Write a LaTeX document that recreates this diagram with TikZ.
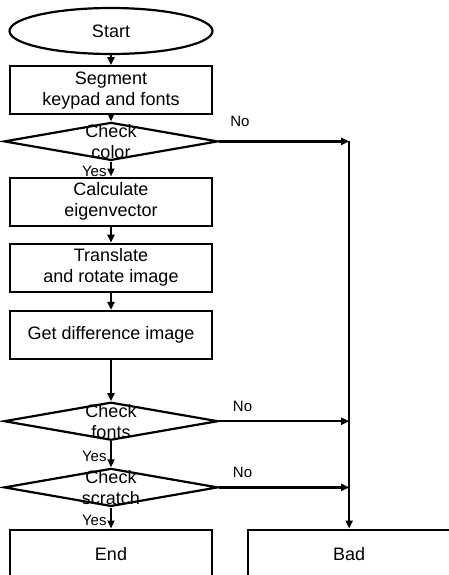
\documentclass[tikz,border=0pt]{standalone}
\usepackage{fontspec}
\setmainfont{Liberation Sans}
\usepackage{tikz}
\usetikzlibrary{positioning}
\usetikzlibrary{shapes.geometric}
\usetikzlibrary{arrows.meta}

\begin{document}
\begin{tikzpicture}[
    x=1pt, y=-1pt,
    line width=2.2pt,
    >={Triangle[length=8pt,width=7pt]},
    every node/.style={font=\fontsize{18}{21}\selectfont},
    box/.style={rectangle, draw=black, minimum width=202pt, minimum height=48pt, inner sep=0pt, align=center},
    oval/.style={ellipse, draw=black, minimum width=203pt, minimum height=46pt, inner sep=0pt},
    check/.style={diamond, draw=black, minimum width=214pt, minimum height=38pt, inner sep=0pt},
    yesno/.style={font=\fontsize{15}{17}\selectfont}
]
\useasboundingbox (0,0) rectangle (448,575);

\node[oval] (start) at (111,31) {Start};
\node[box] (segment) [below=10pt of start] {Segment\\keypad and fonts};
\node[check, label={[align=center]center:Check\\color}] (color) [below=6pt of segment] {};
\node[box] (eigen) [below=15pt of color] {Calculate\\eigenvector};
\node[box] (rotate) [below=16pt of eigen] {Translate\\and rotate image};
\node[box] (diff) [below=17pt of rotate] {Get difference image};
\node[check, label={[align=center]center:Check\\fonts}] (fonts) [below=41pt of diff] {};
\node[check, label={[align=center]center:Check\\scratch}] (scratch) [below=26pt of fonts] {};
\node[box] (end) [below=21pt of scratch] {End};
\node[box] (bad) [right=34pt of end] {Bad};

\coordinate (j1) at (color.east -| bad.north);
\coordinate (j2) at (fonts.east -| bad.north);
\coordinate (j3) at (scratch.east -| bad.north);

\draw[->] (start.south) to (segment.north);
\draw[->] (segment.south) to (color.north);
\draw[->] (color.south) to node[yesno, left, yshift=-2pt] {Yes} (eigen.north);
\draw[->] (eigen.south) to (rotate.north);
\draw[->] (rotate.south) to (diff.north);
\draw[->] (diff.south) to (fonts.north);
\draw[->] (fonts.south) to node[yesno, left, yshift=-2pt] {Yes} (scratch.north);
\draw[->] (scratch.south) to node[yesno, left, yshift=-2pt] {Yes} (end.north);

\draw[->] (color.east) to node[yesno, pos=0.16, above=10pt] {No} (j1);
\draw[->] (fonts.east) to node[yesno, pos=0.18, above=5pt] {No} (j2);
\draw[->] (scratch.east) to node[yesno, pos=0.18, above=5pt] {No} (j3);
\draw[->] (j1) to (bad.north);
\end{tikzpicture}
\end{document}
